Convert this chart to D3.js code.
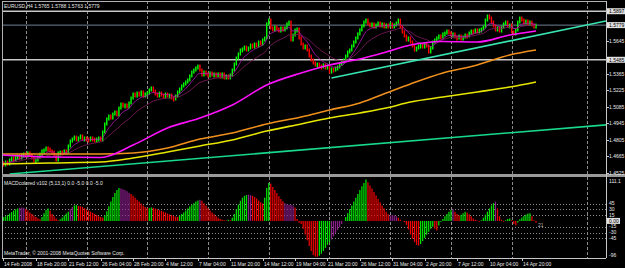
<!DOCTYPE html>
<html><head><meta charset="utf-8">
<script src="https://cdn.jsdelivr.net/npm/d3@7"></script>
<style>
html,body{margin:0;padding:0;background:#000;overflow:hidden;}
svg{display:block;}
text{font-family:"Liberation Sans",Arial,sans-serif;font-size:5px;fill:#e8e8e8;}
</style></head><body>
<script>
// ---- DATA ----
const symbolTitle = "EURUSD,H4  1.5765 1.5788 1.5763 1.5779";
const macdTitle = "MACDcolored v102 (5,13,1) 0.0 -5.0 0.0 -5.0";
const copyright = "MetaTrader, \u00A9 2001-2008 MetaQuotes Software Corp.";

// H4 closes, one per bar
const closes = [
1.4610,1.4593,1.4618,1.4601,1.4635, 1.4652,1.4635,1.4661,1.4669,1.4652,
1.4678,1.4686,1.4669,1.4695,1.4678, 1.4652,1.4627,1.4635,1.4661,
1.4686,1.4712,1.4720, 1.4737,1.4729,1.4712, 1.4703,1.4678,1.4635,1.4695,
1.4703,1.4695,1.4712,1.4703, 1.4754,1.4796,1.4813, 1.4830,1.4805,1.4822,1.4839,1.4813,
1.4822,1.4813,1.4805,1.4822,1.4813,1.4805,1.4813,1.4822,1.4805,
1.4873,1.4941,1.4983,1.5008, 1.4991,1.5025,1.5042,1.5017, 1.5076,1.5110,1.5093,1.5102,
1.5085,1.5119,1.5161, 1.5195,1.5178,1.5203,1.5186,1.5212,1.5178,
1.5195,1.5203,1.5229,1.5246,1.5220, 1.5195,1.5178,1.5203,1.5186,1.5170,1.5195,1.5178,
1.5186,1.5161,1.5153,1.5178,1.5212, 1.5237,1.5263,1.5280,1.5297,1.5314,
1.5348,1.5381,1.5398,1.5415,1.5432, 1.5398,1.5356,1.5381,
1.5365,1.5348,1.5373,1.5356,1.5365, 1.5348,1.5365,1.5339,1.5365,1.5331,
1.5348,1.5331,1.5356,1.5398,1.5449, 1.5500,1.5534,1.5568,1.5577,1.5593,
1.5568,1.5585,1.5610,1.5593,1.5619, 1.5602,1.5636,1.5619,1.5653,1.5670,
1.5789,1.5822,1.5755, 1.5738,1.5763,1.5746,1.5729,1.5755,
1.5738,1.5755,1.5789,1.5805,1.5653, 1.5695,1.5738,1.5746,
1.5670,1.5619,1.5585,1.5602,1.5568, 1.5517,1.5483,1.5458,1.5441,1.5449,
1.5432,1.5424,1.5441,1.5415,1.5432, 1.5381,1.5407,1.5398,
1.5415,1.5424,1.5449,1.5466,1.5483, 1.5517,1.5551,1.5568,1.5602,1.5636,
1.5670,1.5704,1.5738,1.5772, 1.5805,1.5822,1.5789,
1.5772,1.5789,1.5763,1.5780,1.5797, 1.5772,1.5789,1.5763,1.5780,1.5772,
1.5789,1.5763,1.5780,1.5797,1.5822, 1.5763,1.5721,1.5687,
1.5653,1.5670,1.5636,1.5602,1.5568, 1.5585,1.5602,1.5610,1.5593,1.5619,
1.5602,1.5551,1.5585,1.5636,1.5653, 1.5670,1.5687,1.5678,1.5704,1.5712,
1.5729,1.5712,1.5695,1.5704,1.5678, 1.5670,1.5687,1.5661,1.5678,1.5695,
1.5687,1.5712,1.5729,1.5721,1.5738, 1.5721,1.5738,1.5746,1.5763,
1.5822,1.5856,1.5839,1.5805, 1.5772,1.5738,1.5755,1.5729,
1.5763,1.5789,1.5805,1.5772,1.5780, 1.5721,1.5704,1.5738,1.5805,
1.5839,1.5822,1.5797,1.5814,1.5789, 1.5805,1.5780,1.5763,1.5779
];

// MACD histogram (points), one per bar
const macd = [
8,10,12,15,19,23,27,30,32,34,
35,34,31,27,22,18,14,10,7,4,
10,20,28,32,26,18,12,6,2,4,
9,14,19,24,30,36,40,41,39,38,
36,33,30,27,24,21,18,15,12,10,
8,14,25,38,50,62,72,80,85,84,
82,80,77,73,70,65,60,55,50,45,
40,36,33,33,35,34,32,30,28,26,
24,22,19,17,15,13,11,10,14,18,
22,27,32,37,42,46,50,53,55,52,
46,40,33,27,22,17,12,8,5,3,
2,1,3,2,8,18,30,42,52,60,
65,67,68,67,65,62,58,53,48,45,
60,85,98,96,88,80,72,64,57,51,
46,43,42,41,40,35,5,-5,-8,-20,
-35,-50,-65,-78,-88,-92,-93,-90,-85,-78,
-70,-62,-55,-48,-40,-32,-24,-16,-8,0,
10,20,30,40,50,60,70,80,90,98,
107,100,92,84,75,66,57,48,40,32,
24,17,14,15,14,12,8,3,0,-3,
-10,-22,-35,-46,-55,-62,-64,-60,-52,-44,
-36,-28,-20,-15,-20,-25,-12,-2,5,12,
18,24,28,30,24,18,14,16,20,24,
22,17,12,6,3,1,-2,2,8,16,
24,32,40,46,50,32,12,3,-2,2,
5,6,2,-8,-11,-4,4,9,13,16,
19,20,12,2,-5
];
const macdPurpleBars = [9,10,11,34,35,59,60,61,62,63,98,122,123,140,141,142,143,144,163,164,165,166,167,168,192,193,194,195,223,244];

// long moving averages sampled at bar indices
const maBars    = [0,24,49,65,82,98,114,131,148,162,177,190,202,218,235,251,264];
const maMagenta = [1.4678,1.4661,1.4657,1.4762,1.4907,1.4991,1.5102,1.5271,1.5373,1.5441,1.5492,1.5551,1.5610,1.5640,1.5636,1.5695,1.5729];
const maOrange  = [1.4686,1.4686,1.4686,1.4695,1.4737,1.4813,1.4864,1.4941,1.5000,1.5059,1.5119,1.5203,1.5280,1.5373,1.5441,1.5526,1.5568];
const maYellow  = [1.4601,1.4610,1.4618,1.4652,1.4703,1.4754,1.4805,1.4881,1.4941,1.4991,1.5034,1.5076,1.5127,1.5169,1.5212,1.5254,1.5297];

// trend lines (bar, price) pairs, extended to the right
const trendGreenBars = [4,264],   trendGreenPrices = [1.4517,1.4884];
const trendCyanBars  = [163,264], trendCyanPrices  = [1.5331,1.5691];

// horizontal levels
const hLevels = [1.5897, 1.5485];
const bidPrice = 1.5779;

const priceTicks = [1.4525,1.4665,1.4805,1.4945,1.5085,1.5225,1.5365,1.5505,1.5645,1.5785,1.5925];
const macdLevels = [45,30,15,-15,-30,-45];
const macdMax = 111.1, macdMin = -96;

const timeLabelBars = [0,17,33,49,65,81,97,113,129,145,161,177,193,209,225,241,257];
const timeLabels = ["14 Feb 2008","18 Feb 20:00","21 Feb 12:00","26 Feb 04:00","28 Feb 20:00","4 Mar 12:00","7 Mar 04:00","11 Mar 20:00","14 Mar 12:00","19 Mar 04:00","21 Mar 20:00","26 Mar 12:00","31 Mar 04:00","2 Apr 20:00","7 Apr 12:00","10 Apr 04:00","14 Apr 20:00"];
const gridBars = [12,42,72,102,132,162,192,222,252,289];
const macdNote = "21", macdNoteBar = 264, macdNoteValue = -12;

// ---- LAYOUT ----
const W = 625, H = 268;
const L = 2, R = 606, mainT = 1, mainB = 174, macdT = 177, macdB = 258;

const svg = d3.select("body").append("svg").attr("width", W).attr("height", H);
svg.append("rect").attr("width", W).attr("height", H).attr("fill", "#000");

const x = d3.scaleLinear().domain([0, closes.length - 1]).range([1.5, 536]);
const y = d3.scaleLinear().domain([1.4525, 1.5925]).range([173, 7.9]);
const ym = d3.scaleLinear().domain([macdMin, macdMax]).range([macdB, macdT + 1]);

const defs = svg.append("defs");
defs.append("clipPath").attr("id", "cm").append("rect").attr("x", L).attr("y", mainT).attr("width", R - L).attr("height", mainB - mainT);
defs.append("clipPath").attr("id", "cd").append("rect").attr("x", L).attr("y", macdT).attr("width", R - L).attr("height", macdB - macdT);

// vertical grid
const grid = svg.append("g").attr("stroke", "#8c8c8c").attr("stroke-width", 1).attr("stroke-dasharray", "3,2");
gridBars.forEach(b => {
  const gx = Math.round(x(b)) + 0.5;
  grid.append("line").attr("x1", gx).attr("x2", gx).attr("y1", mainT).attr("y2", mainB);
  grid.append("line").attr("x1", gx).attr("x2", gx).attr("y1", macdT).attr("y2", macdB);
});

const gm = svg.append("g").attr("clip-path", "url(#cm)");

// horizontal object lines
hLevels.forEach(p => {
  gm.append("line").attr("x1", L).attr("x2", R).attr("y1", y(p)).attr("y2", y(p))
    .attr("stroke", "#c8c8c8").attr("stroke-width", 1.4);
});
gm.append("line").attr("x1", L).attr("x2", R).attr("y1", y(bidPrice)).attr("y2", y(bidPrice))
  .attr("stroke", "#6f8296").attr("stroke-width", 1);

// candles
const opens = closes.map((c, i) => i ? closes[i - 1] : c);
gm.append("g").selectAll("rect").data(closes).join("rect")
  .attr("x", (d, i) => x(i) - 0.7)
  .attr("width", 1.4)
  .attr("y", (d, i) => Math.min(y(d), y(opens[i])) - 1.5)
  .attr("height", (d, i) => Math.max(2, Math.abs(y(d) - y(opens[i]))) + 3)
  .attr("fill", (d, i) => d >= opens[i] ? "#00ff00" : "#ff0000");

// short averages derived from closes
function ema(arr, p) { const k = 2 / (p + 1); const o = []; arr.forEach((v, i) => o.push(i ? o[i - 1] + k * (v - o[i - 1]) : v)); return o; }
const emaFast = ema(closes, 8), emaSlow = ema(closes, 21);
const lineC = d3.line().x((d, i) => x(i)).y(d => y(d)).curve(d3.curveMonotoneX);
gm.append("path").attr("d", lineC(emaSlow)).attr("fill", "none").attr("stroke", "#7a1a5a").attr("stroke-width", 0.9);
gm.append("path").attr("d", lineC(emaFast)).attr("fill", "none").attr("stroke", "#b818b8").attr("stroke-width", 0.8);

// trend lines (rays)
function ray(bars, prices, color, w) {
  const slope = (prices[1] - prices[0]) / (bars[1] - bars[0]);
  const bEnd = x.invert(R);
  const pEnd = prices[0] + slope * (bEnd - bars[0]);
  gm.append("line").attr("x1", x(bars[0])).attr("y1", y(prices[0])).attr("x2", R).attr("y2", y(pEnd))
    .attr("stroke", color).attr("stroke-width", w);
}
ray(trendGreenBars, trendGreenPrices, "#18d88c", 1.6);

// long MAs
const lineMA = d3.line().x(d => x(d[0])).y(d => y(d[1])).curve(d3.curveMonotoneX);
[[maYellow, "#e6e600"], [maOrange, "#f0901c"], [maMagenta, "#ff10ff"]].forEach(([arr, col]) => {
  gm.append("path").attr("d", lineMA(maBars.map((b, i) => [b, arr[i]])))
    .attr("fill", "none").attr("stroke", col).attr("stroke-width", 1.6);
});
ray(trendCyanBars, trendCyanPrices, "#38e4b0", 1.6);

// MACD panel
const gd = svg.append("g").attr("clip-path", "url(#cd)");
macdLevels.forEach(v => {
  gd.append("line").attr("x1", L).attr("x2", R).attr("y1", Math.round(ym(v)) + 0.5).attr("y2", Math.round(ym(v)) + 0.5)
    .attr("stroke", "#8c8c8c").attr("stroke-dasharray", "1,2");
});
const purple = new Set(macdPurpleBars);
gd.append("g").selectAll("line").data(macd).join("line")
  .attr("x1", (d, i) => x(i)).attr("x2", (d, i) => x(i))
  .attr("y1", ym(0)).attr("y2", d => ym(d))
  .attr("stroke", (d, i) => purple.has(i) ? "#8a1e8a" : (i > 0 && d < macd[i - 1]) ? "#f00000" : "#00e000")
  .attr("stroke-width", 1.25);

// frames
svg.append("line").attr("x1", L).attr("x2", R).attr("y1", mainT + 0.5).attr("y2", mainT + 0.5).attr("stroke", "#b0b0b0");
svg.append("line").attr("x1", L + 0.5).attr("x2", L + 0.5).attr("y1", mainT).attr("y2", macdB).attr("stroke", "#b0b0b0");
svg.append("rect").attr("x", L).attr("y", mainB).attr("width", W - L).attr("height", macdT - mainB).attr("fill", "#9a9a9a");
svg.append("line").attr("x1", R + 0.5).attr("x2", R + 0.5).attr("y1", mainT).attr("y2", macdB).attr("stroke", "#c8c8c8");
svg.append("line").attr("x1", L).attr("x2", R).attr("y1", macdB + 0.5).attr("y2", macdB + 0.5).attr("stroke", "#c8c8c8");

// price axis labels
const hl = hLevels.concat([bidPrice]);
priceTicks.filter(p => hl.every(h => Math.abs(y(p) - y(h)) > 4)).forEach(p => {
  svg.append("line").attr("x1", R).attr("x2", R + 3).attr("y1", Math.round(y(p)) + 0.5).attr("y2", Math.round(y(p)) + 0.5).attr("stroke", "#c8c8c8");
  svg.append("text").attr("x", 609).attr("y", y(p)).attr("dy", "0.35em").text(p.toFixed(4));
});
hl.forEach(p => {
  svg.append("rect").attr("x", R + 1).attr("y", y(p) - 3).attr("width", 18).attr("height", 6).attr("fill", "#e0e0e0");
  svg.append("text").attr("x", 609).attr("y", y(p)).attr("dy", "0.35em").style("fill", "#000").text(p.toFixed(4));
});

// MACD axis labels
svg.append("text").attr("x", 609).attr("y", macdT + 4).attr("dy", "0.35em").text(macdMax.toFixed(1));
macdLevels.forEach(v => {
  svg.append("text").attr("x", 609).attr("y", ym(v)).attr("dy", "0.35em").text(v);
});
svg.append("rect").attr("x", R + 1).attr("y", ym(0) - 3).attr("width", 13).attr("height", 6).attr("fill", "#e0e0e0");
svg.append("text").attr("x", 609).attr("y", ym(0)).attr("dy", "0.35em").style("fill", "#000").text("0.00");
svg.append("text").attr("x", 609).attr("y", macdB - 3).attr("dy", "0.35em").text(macdMin);

// time axis
timeLabelBars.forEach((b, i) => {
  const tx = Math.max(L + 1, Math.round(x(b)));
  svg.append("line").attr("x1", tx + 0.5).attr("x2", tx + 0.5).attr("y1", macdB).attr("y2", macdB + 3).attr("stroke", "#c8c8c8");
  svg.append("text").attr("x", tx + 1).attr("y", 264).attr("dy", "0.35em").text(timeLabels[i]);
});

// texts
svg.append("text").attr("x", 4).attr("y", 6).attr("dy", "0.35em").text(symbolTitle);
svg.append("text").attr("x", 4).attr("y", 183).attr("dy", "0.35em").text(macdTitle);
svg.append("text").attr("x", 4).attr("y", 253).attr("dy", "0.35em").text(copyright);
svg.append("text").attr("x", x(macdNoteBar) + 2).attr("y", ym(macdNoteValue)).attr("dy", "0.35em").style("fill", "#b8b8b8").text(macdNote);
</script>
</body></html>
